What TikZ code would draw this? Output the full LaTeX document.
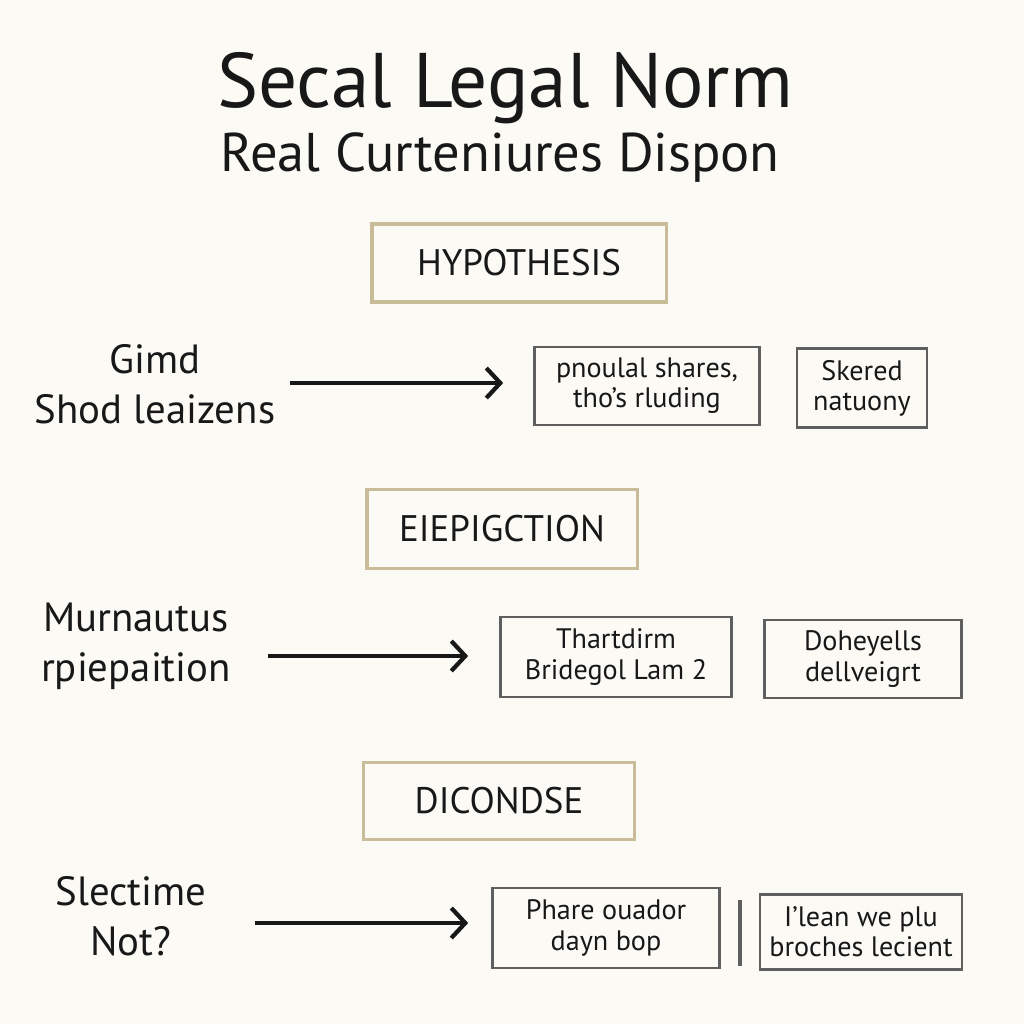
\documentclass[tikz,border=0pt]{standalone}
\usepackage{fontspec}
\setmainfont{PT Sans}
\usetikzlibrary{positioning,arrows.meta}
\definecolor{paperc}{RGB}{251,250,244}
\definecolor{secc}{RGB}{201,188,152}
\definecolor{boxc}{RGB}{95,95,95}
\definecolor{inkc}{RGB}{24,24,24}
\tikzset{
  ttl/.style={font=\fontsize{22}{26}\selectfont,text=inkc},
  subttl/.style={font=\fontsize{15.5}{18}\selectfont,text=inkc},
  sect/.style={rectangle,draw=secc,line width=0.9pt,inner sep=0pt,font=\fontsize{10.5}{12}\selectfont,text=inkc},
  lbl/.style={align=center,inner sep=0pt,font=\fontsize{11.6}{14.2}\selectfont,text=inkc},
  cbox/.style={rectangle,draw=boxc,line width=0.7pt,inner sep=0pt,align=center,font=\fontsize{8}{8.6}\selectfont,text=inkc},
  % thick stroke with an open chevron head
  flow/.style={-{Straight Barb[length=1.4mm,width=3mm]},line width=1.2pt,inkc},
}

\begin{document}
\begin{tikzpicture}[x=0.01cm,y=-0.01cm]
  \fill[paperc] (0,0) rectangle (1024,1024);
  \useasboundingbox (0,0) rectangle (1024,1024);
  % ---- heading ----
  \node[ttl] (title) at (505,88) {Secal Legal Norm};
  \node[subttl] (sub) at (500,158) {Real Curteniures Dispon};
  % ---- first section ----
  \node[sect,minimum width=29.4mm,minimum height=7.8mm] (hyp) at (519,263) {HYPOTHESIS};
  \node[lbl] (lblA) at (155,384) {Gimd\\Shod leaizens};
  \node[cbox,minimum width=22.5mm,minimum height=7.8mm] (boxA) at (647,386) {pnoulal shares,\\tho's rluding};
  \node[cbox,minimum width=13mm,minimum height=7.9mm] (boxB) at (862,388) {Skered\\natuony};
  \coordinate (tA) at (290,383);
  \draw[flow,shorten >=3mm] (tA) -- (tA -| boxA.west);
  % ---- second section ----
  \node[sect,minimum width=27mm,minimum height=7.9mm] (epi) at (502,529) {EIEPIGCTION};
  \node[lbl] (lblB) at (136,646) {Murnautus\\rpiepaition};
  \node[cbox,minimum width=23.1mm,minimum height=8mm] (boxC) at (616,657) {Thartdirm\\Bridegol Lam 2};
  \node[cbox,minimum width=19.7mm,minimum height=7.8mm] (boxD) at (863,659) {Doheyells\\dellveigrt};
  \coordinate (tB) at (268,656);
  \draw[flow,shorten >=3.1mm] (tB) -- (tB -| boxC.west);
  % ---- third section ----
  \node[sect,minimum width=27.1mm,minimum height=7.7mm] (dic) at (499,801) {DICONDSE};
  \node[lbl] (lblC) at (131,916) {Slectime\\Not?};
  \node[cbox,minimum width=22.7mm,minimum height=8mm] (boxE) at (606,928) {Phare ouador\\dayn bop};
  \node[cbox,minimum width=20.2mm,minimum height=7.5mm] (boxF) at (861,932) {I'lean we plu\\broches lecient};
  \coordinate (tC) at (255,923);
  \draw[flow,shorten >=2.3mm] (tC) -- (tC -| boxE.west);
  % divider between the last two boxes
  \draw[boxc,line width=0.9pt] (740,900) -- (740,966);
\end{tikzpicture}
\end{document}
